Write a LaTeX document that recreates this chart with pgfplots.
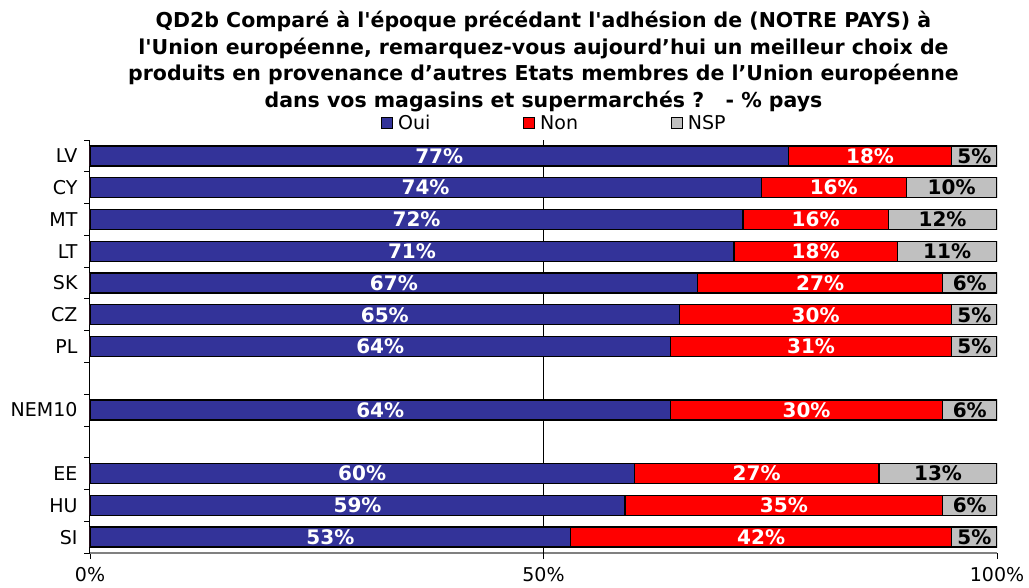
\documentclass[border=0pt]{standalone}
\usepackage{fontspec}
\setmainfont{DejaVu Sans}
\usepackage{pgfplots}
\usepackage{pgfplotstable}
\pgfplotsset{compat=1.18}
\definecolor{oui}{RGB}{51,51,153}
\definecolor{non}{RGB}{255,0,0}
\definecolor{nsp}{RGB}{192,192,192}

\pgfplotstableread{
row oui non nsp
1 77 18 5
2 74 16 10
3 72 16 12
4 71 18 11
5 67 27 6
6 65 30 5
7 64 31 5
9 64 30 6
11 60 27 13
12 59 35 6
13 53 42 5
}\data

\begin{document}
\begin{tikzpicture}[x=1pt,y=1pt]
\path[use as bounding box] (0,0) rectangle (1029,587);
\node[align=center, anchor=north, font=\fontsize{20.5}{26.5}\selectfont\bfseries] at (543.5,579)
{QD2b Comparé à l\textquotesingle{}époque précédant l\textquotesingle{}adhésion de (NOTRE PAYS) à\\
l\textquotesingle{}Union européenne, remarquez-vous aujourd’hui un meilleur choix de\\
produits en provenance d’autres Etats membres de l’Union européenne\\
dans vos magasins et supermarchés ?~~~- \% pays};
\begin{axis}[
  at={(90pt,34pt)}, anchor=south west,
  scale only axis, width=907pt, height=413pt,
  xmin=0, xmax=100, ymin=0.5, ymax=13.5, y dir=reverse,
  /pgf/number format/assume math mode=true,
  axis lines*=left,
  x axis line style={draw=gray, line width=2pt},
  y axis line style={draw=black, line width=1pt},
  xtick={0,50,100}, xticklabels={0\%,50\%,100\%},
  xticklabel style={yshift=-5pt},
  extra x ticks={50}, extra x tick labels={},
  extra x tick style={grid=major, major grid style={black, line width=0.8pt}},
  ytick={0.5,1.5,...,13.5}, yticklabels={},
  extra y ticks={1,2,3,4,5,6,7,9,11,12,13},
  extra y tick labels={LV,CY,MT,LT,SK,CZ,PL,NEM10,EE,HU,SI},
  extra y tick style={major tick length=0pt, tick style={draw=none}, yticklabel style={xshift=-9pt}},
  tick align=outside, major tick length=6pt,
  tick style={black, line width=0.8pt},
  ticklabel style={font=\fontsize{19}{22}\selectfont},
  legend columns=3,
  legend style={at={(axis description cs:0.321,1.041)}, anchor=west, draw=none, fill=none,
    inner sep=0pt, font=\fontsize{19}{22}\selectfont,
    /tikz/every odd column/.append style={column sep=3pt},
    /tikz/every even column/.append style={column sep=91pt}},
  legend image code/.code={\draw[#1, draw=black, line width=0.8pt] (0pt,-5.5pt) rectangle (11pt,5.5pt);},
  reverse legend,
]
\addplot[xbar, bar width=20pt, bar shift=0pt, fill=nsp, draw=black, line width=1.3pt]
  table[x expr=\thisrow{oui}+\thisrow{non}+\thisrow{nsp}, y=row]{\data};
\addplot[xbar, bar width=20pt, bar shift=0pt, fill=non, draw=black, line width=1.3pt]
  table[x expr=\thisrow{oui}+\thisrow{non}, y=row]{\data};
\addplot[xbar, bar width=20pt, bar shift=0pt, fill=oui, draw=black, line width=1.3pt]
  table[x=oui, y=row]{\data};
\legend{NSP,Non,Oui}
\addplot[forget plot, draw=none, mark=none, point meta=explicit,
  nodes near coords={\pgfmathprintnumber{\pgfplotspointmeta}\%},
  nodes near coords style={anchor=center, text=white, font=\fontsize{20}{24}\selectfont\bfseries}]
  table[x expr=\thisrow{oui}/2, y=row, meta=oui]{\data};
\addplot[forget plot, draw=none, mark=none, point meta=explicit,
  nodes near coords={\pgfmathprintnumber{\pgfplotspointmeta}\%},
  nodes near coords style={anchor=center, text=white, font=\fontsize{20}{24}\selectfont\bfseries}]
  table[x expr=\thisrow{oui}+\thisrow{non}/2, y=row, meta=non]{\data};
\addplot[forget plot, draw=none, mark=none, point meta=explicit,
  nodes near coords={\pgfmathprintnumber{\pgfplotspointmeta}\%},
  nodes near coords style={anchor=center, text=black, font=\fontsize{20}{24}\selectfont\bfseries}]
  table[x expr=\thisrow{oui}+\thisrow{non}+\thisrow{nsp}/2, y=row, meta=nsp]{\data};
\end{axis}
\end{tikzpicture}
\end{document}
